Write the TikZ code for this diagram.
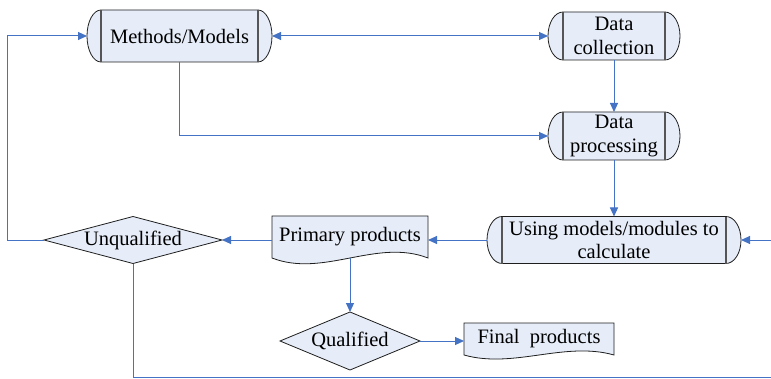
\documentclass[tikz,border=0pt]{standalone}
\usepackage{fontspec}
\setmainfont{Liberation Serif}
\usetikzlibrary{arrows.meta,backgrounds,calc}
\definecolor{lineblue}{RGB}{68,114,196}
\definecolor{boxfill}{RGB}{230,237,248}
\definecolor{boxedge}{RGB}{30,30,30}
\definecolor{innerline}{RGB}{85,85,85}
\tikzset{
 holder/.style={draw=none,inner sep=0pt,outer sep=0pt,align=center,font=\fontsize{20.5}{23.5}\selectfont},
 conn/.style={draw=lineblue,line width=1pt},
 arr/.style={conn,-{Triangle[length=9pt,width=8pt]}},
 darr/.style={conn,{Triangle[length=9pt,width=8pt]}-{Triangle[length=9pt,width=8pt]}},
 outline/.style={draw=boxedge,fill=boxfill,line width=0.8pt},
}
\newcommand\termout[3]{%
 \path[outline] ([xshift=#2]#1.north west) -- ([xshift=-#2]#1.north east) arc[start angle=90,end angle=-90,x radius=#2,y radius=#3] -- ([xshift=#2]#1.south west) arc[start angle=-90,end angle=-270,x radius=#2,y radius=#3] -- cycle;
 \draw[innerline,line width=1.6pt] ([xshift=#2]#1.north west) -- ([xshift=#2]#1.south west) ([xshift=-#2]#1.north east) -- ([xshift=-#2]#1.south east);
}
\newcommand\diamout[1]{\path[outline] (#1.north) -- (#1.east) -- (#1.south) -- (#1.west) -- cycle;}
\newcommand\docout[2]{%
 \path[outline] (#1.south east) -- (#1.north east) -- (#1.north west) -- (#1.south west) .. controls ($(#1.south west)!0.33!(#1.south east)+(0,-#2)$) and ($(#1.south west)!0.67!(#1.south east)+(0,#2)$) .. (#1.south east) -- cycle;}
\begin{document}
\begin{tikzpicture}[x=1pt,y=1pt]
\useasboundingbox (0,0) rectangle (771,378);
\node[holder,minimum width=185,minimum height=52] (m) at (179.5,342) {Methods/Models};
\node[holder,minimum width=132,minimum height=48] (dc) at (614,342) {Data\\collection};
\node[holder,minimum width=132,minimum height=48] (dp) at (614,242) {Data\\processing};
\node[holder,minimum width=254,minimum height=47] (u) at (614,138) {Using models/modules to\\calculate};
\node[holder,minimum width=156,minimum height=42] (p) at (350,141) {Primary products};
\node[holder,minimum width=178,minimum height=47] (uq) at (133,138) {Unqualified};
\node[holder,minimum width=140,minimum height=58] (q) at (350,37) {Qualified};
\node[holder,minimum width=150,minimum height=32] (f) at (539,39) {Final\ \ products};
\coordinate (lx) at (7,0);
\coordinate (rx) at (771,0);
\coordinate (by) at (0,1);
\begin{scope}[on background layer]
 \termout{m}{14}{26}
 \termout{dc}{15}{24}
 \termout{dp}{15}{24}
 \termout{u}{15}{23.5}
 \docout{p}{20}
 \docout{f}{14}
 \diamout{uq}
 \diamout{q}
\end{scope}
\draw[arr] (uq.west) -- (uq.west -| lx) |- (m.west);
\draw[darr] (m.east) -- (dc.west);
\draw[arr] (m.south) |- (dp.west);
\draw[arr] (dc.south) -- (dp.north);
\draw[arr] (dp.south) -- (u.north);
\draw[arr] (u.east -| rx) -- (u.east);
\draw[arr] (u.west) -- (u.west -| p.east);
\draw[arr] (u.west -| p.west) -- (uq.east);
\draw[arr] (p.south) -- (q.north);
\draw[arr] (q.east) -- (q.east -| f.west);
\draw[conn] (uq.south) |- (by -| rx);
\end{tikzpicture}
\end{document}
